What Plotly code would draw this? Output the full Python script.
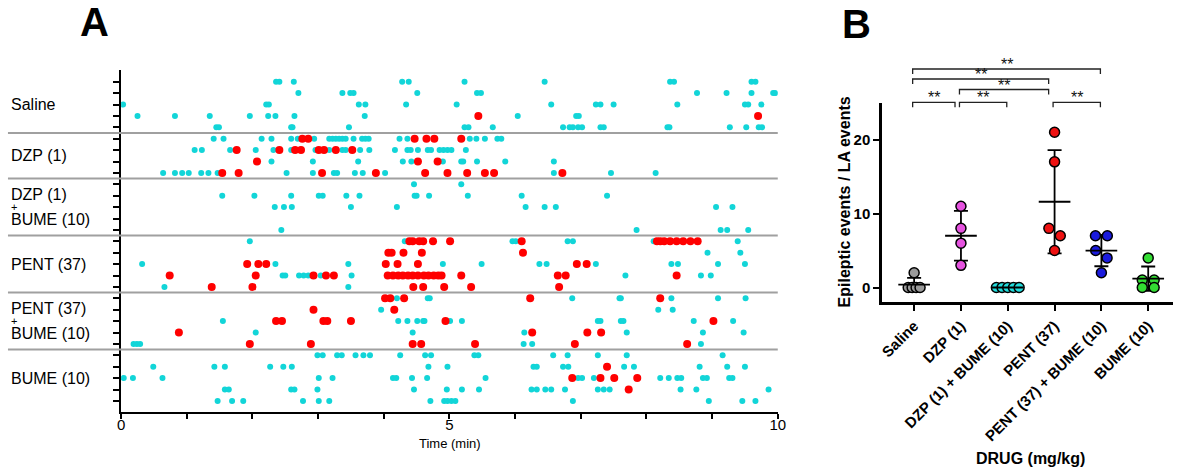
import numpy as np
import plotly.graph_objects as go

W, H = 1183, 474

# ---------------- Panel A data: event times (min), one list per animal row ----------------
GROUP_NAMES = ["Saline", "DZP (1)", "DZP (1) + BUME (10)", "PENT (37)", "PENT (37) + BUME (10)", "BUME (10)"]

SALINE_CYAN = [
    [2.36, 2.41, 2.63, 4.28, 4.38, 5.23, 6.45, 8.36, 8.42, 9.60, 9.66],
    [2.70, 3.37, 3.49, 3.54, 4.51, 5.42, 5.48, 8.77, 9.22, 9.60, 9.93, 9.96],
    [0.03, 2.21, 2.25, 3.62, 3.72, 4.34, 5.11, 6.55, 7.23, 7.30, 7.50, 8.47, 9.50, 9.55, 9.75],
    [0.25, 0.82, 1.35, 1.96, 2.24, 2.35, 2.64, 3.71, 6.04, 6.93, 6.97],
    [1.45, 1.49, 2.59, 2.61, 3.47, 5.23, 5.29, 5.66, 6.73, 6.83, 6.88, 6.96, 7.02, 7.30, 7.35,
     8.32, 8.35, 9.27, 9.52, 9.71, 9.76],
]
SALINE_RED = [[], [], [], [5.44, 9.70], []]

DZP_CYAN = [
    [1.41, 1.56, 2.14, 2.29, 2.59, 2.69, 2.94, 3.17, 3.22, 3.27, 3.32, 3.37, 3.42, 3.54, 3.67,
     3.72, 3.77, 4.24, 4.36, 5.31, 5.41, 5.54, 5.73, 5.79],
    [1.12, 1.23, 1.66, 2.05, 2.32, 2.59, 2.96, 3.17, 3.37, 3.42, 3.64, 3.78, 4.17, 4.36, 4.41,
     4.52, 4.67, 4.72, 4.85, 4.91, 4.97, 5.03, 5.25],
    [2.29, 2.92, 3.61, 4.29, 4.42, 4.90, 5.18, 5.21, 5.42, 5.85, 6.59],
    [0.64, 0.82, 0.93, 1.03, 1.22, 1.33, 1.47, 2.52, 2.92, 3.24, 3.29, 3.56, 3.68, 4.02, 6.59,
     7.46, 8.14],
]
DZP_RED = [
    [2.76, 2.85, 4.47, 4.65, 4.77, 5.18],
    [1.76, 2.41, 2.65, 2.74, 3.01, 3.09, 3.27, 3.52],
    [2.07, 4.52, 4.82],
    [1.54, 1.79, 3.06, 3.88, 4.63, 4.97, 5.27, 5.54, 5.68, 6.72],
]

DZPB_CYAN = [
    [4.46, 5.18],
    [1.54, 2.03, 2.59, 3.01, 3.07, 3.43, 3.63, 4.47, 4.50, 4.69, 5.28, 6.10, 7.40],
    [2.34, 2.48, 2.60, 3.50, 4.20, 6.16, 6.45, 6.62, 9.06, 9.31],
    [],
    [2.44, 7.85, 9.13, 9.23, 9.55],
]
DZPB_RED = [[], [], [], [], []]

PENT_CYAN = [
    [1.96, 4.32, 5.96, 6.01, 6.80, 6.88, 8.11, 9.39],
    [8.93, 9.43],
    [0.32, 2.35, 3.46, 4.90, 5.49, 6.37, 6.48, 7.23, 8.38, 8.48, 9.09, 9.50],
    [2.46, 2.50, 2.71, 2.78, 2.85, 2.91, 3.04, 3.51, 7.68, 8.83, 8.98],
    [0.66, 3.46],
]
PENT_RED = [
    [4.39, 4.44, 4.54, 4.60, 4.75, 5.01, 6.10, 8.16, 8.21, 8.27, 8.36, 8.46, 8.56, 8.67, 8.78],
    [4.07, 4.12, 4.30, 4.58, 6.12],
    [1.92, 2.09, 2.21, 4.03, 4.21, 4.52, 6.94, 7.09],
    [0.74, 2.05, 2.93, 3.12, 3.24, 4.06, 4.14, 4.22, 4.29, 4.37, 4.44, 4.52, 4.61, 4.68, 4.76,
     4.83, 4.88, 5.18, 6.65, 6.77, 8.46],
    [1.38, 2.00, 4.45, 4.60, 4.92, 5.33, 6.67],
]

PENTB_CYAN = [
    [4.20, 4.67, 4.70, 6.87, 7.59, 7.61, 8.38, 9.09, 9.51],
    [3.96, 8.18, 8.40],
    [1.55, 4.22, 4.36, 4.51, 4.60, 4.62, 5.01, 5.19, 7.26, 7.30, 7.61, 7.65, 8.72, 9.32],
    [2.05, 4.44, 6.14, 7.70, 8.86, 9.48],
    [0.19, 0.24, 0.29, 6.13, 6.26, 8.83],
]
PENTB_RED = [
    [4.02, 4.10, 4.31, 6.23, 8.21],
    [2.93, 4.16],
    [2.36, 2.45, 3.08, 3.14, 3.50, 4.94, 9.02],
    [0.88, 6.26, 7.10, 7.31],
    [1.96, 2.89, 4.44, 4.57, 5.39, 6.91, 8.62],
]

BUME_CYAN = [
    [2.99, 3.07, 3.29, 3.36, 3.57, 3.69, 3.79, 4.25, 4.63, 4.72, 5.38, 5.44, 6.58, 6.80, 7.26,
     7.70, 9.16],
    [0.49, 1.42, 1.58, 2.27, 2.47, 2.60, 4.68, 4.97, 6.28, 6.33, 6.73, 6.81, 7.66, 7.81, 8.81,
     9.23, 9.50],
    [0.04, 0.18, 0.63, 3.01, 3.22, 4.14, 4.19, 4.43, 4.66, 5.55, 6.96, 7.02, 7.20, 8.21, 8.34,
     8.47, 8.53, 8.86, 8.92, 9.26, 9.31],
    [1.58, 1.64, 2.59, 2.64, 2.99, 4.46, 4.96, 5.19, 5.45, 6.25, 6.33, 6.46, 6.55, 6.76, 7.26,
     7.35, 7.44, 8.52, 8.76, 9.86],
    [1.47, 1.69, 1.86, 2.77, 3.01, 3.17, 4.71, 4.92, 4.97, 5.03, 5.09, 6.88, 8.95, 9.46, 9.66],
]
BUME_RED = [[], [7.40], [6.87, 7.30, 7.51, 7.86], [7.73], []]

# row labels of panel A (multi-part labels are stacked lines)
ROW_LABELS = [["Saline"], ["DZP (1)"], ["DZP (1)", "+", "BUME (10)"], ["PENT (37)"],
              ["PENT (37)", "+", "BUME (10)"], ["BUME (10)"]]

X_TICKS_A = list(range(0, 11))
X_TICKTEXT_A = ["0", "", "", "", "", "5", "", "", "", "", "10"]

# ---------------- Panel B data ----------------
B_CATS = ["Saline", "DZP (1)", "DZP (1) + BUME (10)", "PENT (37)", "PENT (37) + BUME (10)", "BUME (10)"]
B_SALINE = [2, 0, 0, 0, 0]
B_DZP = [11, 8, 6, 3]
B_DZPB = [0, 0, 0, 0, 0]
B_PENT = [21, 17, 8, 7, 5]
B_PENTB = [7, 7, 5, 4, 2]
B_BUME = [4, 1, 1, 0, 0]
B_TICKS_Y = [0, 10, 20]
SIG_PAIRS = [(0, 1), (1, 2), (3, 4), (1, 3), (0, 3), (0, 4)]
SIG_LEVELS = [0, 0, 0, 1, 2, 3]
SIG_TEXT = "**"

# ---------------- geometry / styles ----------------
FONT = "Liberation Sans, Arial, sans-serif"
CYAN = "#12D5D8"
RED = "#FF0000"
B_COLORS = ["#9A9A9A", "#E552DF", "#22DCDC", "#EE1111", "#1B1BDD", "#33DD33"]


def px(x):
    return x / W


def py(y):
    return 1 - y / H


A_X = [118.3, 781.7]
A_Y = [412.3, 70.3]
B_X = [887.3, 1181.0]
B_Y = [302.3, 102.7]
B_XRANGE = [-0.68, 5.53]
B_YRANGE = [-2, 25]

fig = go.Figure()

# ---- Panel A raster ----
groups_cyan = [SALINE_CYAN, DZP_CYAN, DZPB_CYAN, PENT_CYAN, PENTB_CYAN, BUME_CYAN]
groups_red = [SALINE_RED, DZP_RED, DZPB_RED, PENT_RED, PENTB_RED, BUME_RED]
cx, cy, rx, ry = [], [], [], []
row = 0
group_bounds = []
for gc, gr in zip(groups_cyan, groups_red):
    start = row
    for c, r in zip(gc, gr):
        cx += c
        cy += [row] * len(c)
        rx += r
        ry += [row] * len(r)
        row += 1
    group_bounds.append((start, row - 1))
n_rows = row

fig.add_trace(go.Scatter(x=cx, y=cy, mode="markers", xaxis="x", yaxis="y",
                         marker=dict(size=6, color=CYAN, line=dict(width=0)),
                         showlegend=False, hoverinfo="skip"))
fig.add_trace(go.Scatter(x=rx, y=ry, mode="markers", xaxis="x", yaxis="y",
                         marker=dict(size=8, color=RED, line=dict(width=0)),
                         showlegend=False, hoverinfo="skip"))

shapes = []
for (s, e) in group_bounds[:-1]:
    shapes.append(dict(type="line", xref="paper", yref="y", x0=px(4), x1=px(A_X[1]),
                       y0=e + 0.5, y1=e + 0.5, line=dict(color="#A0A0A0", width=2), layer="above"))

annotations = []
ROW_PX = (A_Y[0] - A_Y[1]) / (n_rows + 1)
LINE_STEP = 12.7 / ROW_PX  # stacked label line step, in row units
for (s, e), lines in zip(group_bounds, ROW_LABELS):
    mid = (s + e) / 2
    k = len(lines)
    for j, t in enumerate(lines):
        yy = mid + (j - (k - 1) / 2) * LINE_STEP
        annotations.append(dict(xref="paper", yref="y", x=px(5), y=yy, xanchor="left",
                                yanchor="middle", text=t, showarrow=False,
                                font=dict(size=11 if t == "+" else 16, color="black", family=FONT)))

# ---- Panel B ----
B_VALUES = [B_SALINE, B_DZP, B_DZPB, B_PENT, B_PENTB, B_BUME]
PX_PER_CAT = (B_X[1] - B_X[0]) / (B_XRANGE[1] - B_XRANGE[0])
PX_PER_UNIT = (B_Y[0] - B_Y[1]) / (B_YRANGE[1] - B_YRANGE[0])


def swarm_offsets(vals):
    n = len(vals)
    offs = [0.0] * n
    groups = {}
    for i, v in enumerate(vals):
        groups.setdefault(v, []).append(i)
    for v, idxs in groups.items():
        m = len(idxs)
        if m > 1:
            span = 12.0 if m <= 4 else 23.0
            s = span / (m - 1)
            for k, i in enumerate(idxs):
                offs[i] = (k - (m - 1) / 2) * s
    singles = sorted([g[0] for g in groups.values() if len(g) == 1], key=lambda i: -vals[i])
    k = 0
    while k < len(singles) - 1:
        a, b = singles[k], singles[k + 1]
        if abs(vals[a] - vals[b]) * PX_PER_UNIT < 10:
            offs[a], offs[b] = -5.75, 5.75
            k += 2
        else:
            k += 1
    return [o / PX_PER_CAT for o in offs]


means = [float(np.mean(v)) for v in B_VALUES]
sds = [float(np.std(v, ddof=1)) for v in B_VALUES]

# error bars (behind)
fig.add_trace(go.Scatter(x=list(range(len(B_CATS))), y=means, mode="markers", xaxis="x2", yaxis="y2",
                         marker=dict(size=1, color="rgba(0,0,0,0)"),
                         error_y=dict(type="data", array=sds, visible=True, color="black",
                                      thickness=1.8, width=7),
                         showlegend=False, hoverinfo="skip"))
# dots
for i, vals in enumerate(B_VALUES):
    offs = swarm_offsets(vals)
    fig.add_trace(go.Scatter(x=[i + o for o in offs], y=vals, mode="markers", xaxis="x2", yaxis="y2",
                             marker=dict(size=10, color=B_COLORS[i], line=dict(color="black", width=1.5)),
                             showlegend=False, hoverinfo="skip"))
# mean lines
HALF = 16 / PX_PER_CAT
mx, my = [], []
for i, m in enumerate(means):
    mx += [i - HALF, i + HALF, None]
    my += [m, m, None]
fig.add_trace(go.Scatter(x=mx, y=my, mode="lines", xaxis="x2", yaxis="y2",
                         line=dict(color="black", width=1.8), showlegend=False, hoverinfo="skip"))

# significance brackets
LEVEL_Y = [102.3, 89.5, 79.0, 69.0]
DROP = 5
left_ends = {a for a, b in SIG_PAIRS}
for (a, b), lev in zip(SIG_PAIRS, SIG_LEVELS):
    yl = LEVEL_Y[lev]
    xa = a - 1.5 / PX_PER_CAT
    xb = b - (6 if b in left_ends else 1) / PX_PER_CAT
    shapes.append(dict(type="path", xref="x2", yref="paper",
                       path=f"M {xa},{py(yl + DROP)} L {xa},{py(yl)} L {xb},{py(yl)} L {xb},{py(yl + DROP)}",
                       line=dict(color="#222222", width=1.3)))
    annotations.append(dict(xref="x2", yref="paper", x=(xa + xb) / 2, y=py(yl - 4.5),
                            text=SIG_TEXT, showarrow=False, xanchor="center", yanchor="middle",
                            font=dict(size=16, color="#111111", family=FONT)))

annotations += [
    dict(xref="paper", yref="paper", x=px(91), y=py(22), text="<b>A</b>", showarrow=False,
         xanchor="center", yanchor="middle", font=dict(size=40, color="black", family=FONT)),
    dict(xref="paper", yref="paper", x=px(861), y=py(24), text="<b>B</b>", showarrow=False,
         xanchor="center", yanchor="middle", font=dict(size=40, color="black", family=FONT)),
    dict(xref="paper", yref="paper", x=px(451), y=py(443), text="Time (min)", showarrow=False,
         xanchor="center", yanchor="middle", font=dict(size=13, color="black", family=FONT)),
    dict(xref="paper", yref="paper", x=px(1037), y=py(458), text="<b>DRUG (mg/kg)</b>", showarrow=False,
         xanchor="center", yanchor="middle", font=dict(size=16, color="black", family=FONT)),
    dict(xref="paper", yref="paper", x=px(849), y=py(202), text="<b>Epileptic events / LA events</b>",
         textangle=-90, showarrow=False, xanchor="center", yanchor="middle",
         font=dict(size=16, color="black", family=FONT)),
]

fig.update_layout(
    width=W, height=H, margin=dict(l=0, r=0, t=0, b=0),
    plot_bgcolor="white", paper_bgcolor="white", showlegend=False,
    font=dict(family=FONT, color="black"),
    xaxis=dict(domain=[px(A_X[0]), px(A_X[1])], range=[0, 10], anchor="y",
               showline=True, linecolor="black", linewidth=1.5, mirror=False,
               ticks="outside", ticklen=5, tickwidth=1.5, tickcolor="black",
               tickvals=X_TICKS_A, ticktext=X_TICKTEXT_A, tickfont=dict(size=15),
               ticklabelstandoff=-7,
               showgrid=False, zeroline=False),
    yaxis=dict(domain=[py(A_Y[0]), py(A_Y[1])], range=[n_rows, -1], anchor="x",
               showline=True, linecolor="black", linewidth=1.5,
               ticks="outside", ticklen=6, tickwidth=1.5, tickcolor="black",
               tickvals=list(range(n_rows)), showticklabels=False,
               showgrid=False, zeroline=False),
    xaxis2=dict(domain=[px(B_X[0]), px(B_X[1])], range=B_XRANGE, anchor="y2",
                showline=True, linecolor="black", linewidth=3,
                ticks="outside", ticklen=6, tickwidth=2, tickcolor="black",
                tickvals=list(range(len(B_CATS))), ticktext=B_CATS, tickangle=-45,
                tickfont=dict(size=15, weight="bold"), showgrid=False, zeroline=False),
    yaxis2=dict(domain=[py(B_Y[0]), py(B_Y[1])], range=B_YRANGE, anchor="x2",
                showline=True, linecolor="black", linewidth=3,
                ticks="outside", ticklen=6, tickwidth=2, tickcolor="black",
                tickvals=B_TICKS_Y, tickfont=dict(size=15, weight="bold"),
                showgrid=False, zeroline=False),
    shapes=shapes, annotations=annotations,
)

fig.write_html("out.html", config={"displayModeBar": False},
               post_script="document.body.style.margin='0px';document.body.style.overflow='hidden';")
